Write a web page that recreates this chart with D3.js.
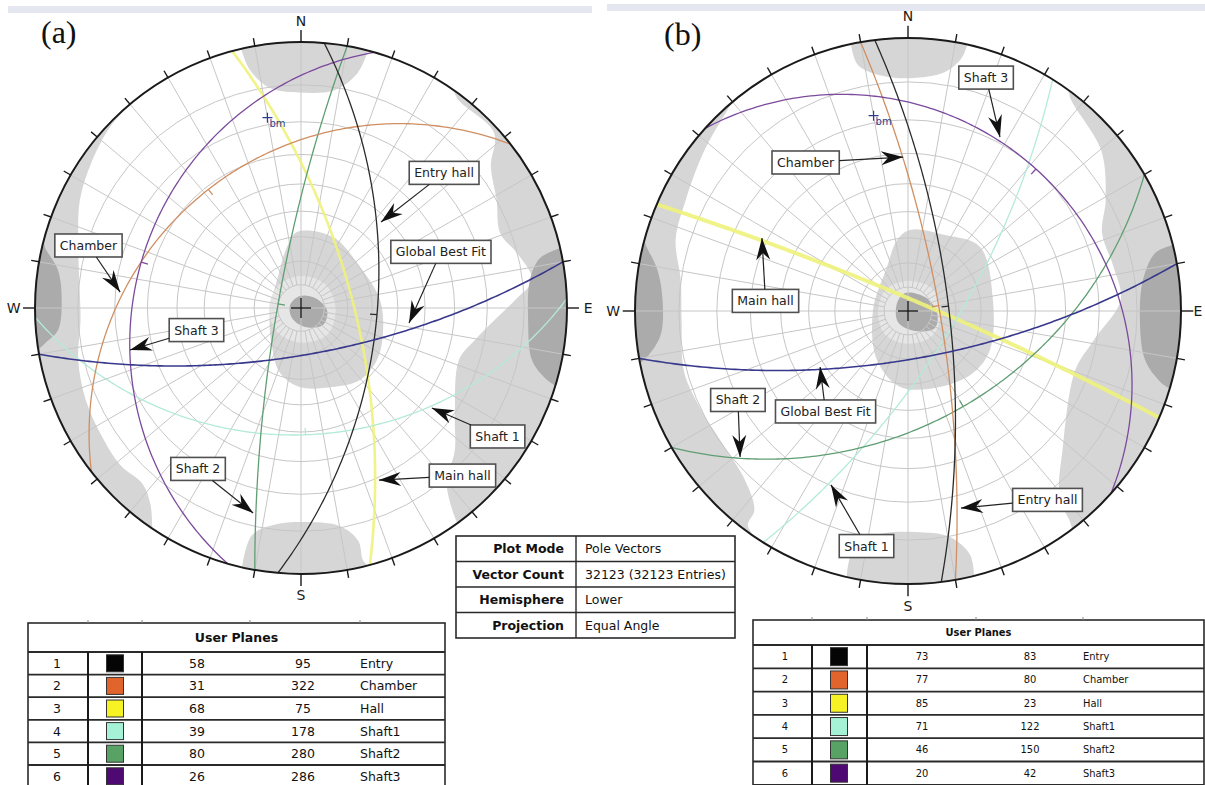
<!DOCTYPE html>
<html><head><meta charset="utf-8">
<script src="https://cdn.jsdelivr.net/npm/d3@7"></script>
<style>
body{margin:0;background:#fff;}
svg{display:block;font-family:"DejaVu Sans",Verdana,sans-serif;}
</style></head><body>
<svg id="chart" width="1205" height="785"></svg>
<script>
// ---------------- DATA ----------------
const planeIds = [1, 2, 3, 4, 5, 6];
const planeNames = ["Entry", "Chamber", "Hall", "Shaft1", "Shaft2", "Shaft3"];
const dipA = [58, 31, 68, 39, 80, 26];
const dipDirA = [95, 322, 75, 178, 280, 286];
const dipB = [73, 77, 85, 71, 46, 20];
const dipDirB = [83, 80, 23, 122, 150, 42];
const bestFitA = [70, 170];      // dip, dip direction (Global Best Fit)
const bestFitB = [70, 170];
const meanPoleA = [350, 18];     // trend, plunge ("bm")
const meanPoleB = [350, 18];
const gridPlunges = [10, 20, 30, 40, 50, 60, 70, 80];
const gridTrendStep = 10;
const cardinalLabels = ["N", "E", "S", "W"];
const cardinalTrends = [0, 90, 180, 270];
const infoLabels = ["Plot Mode", "Vector Count", "Hemisphere", "Projection"];
const infoValues = ["Pole Vectors", "32123 (32123 Entries)", "Lower", "Equal Angle"];
const tableTitle = "User Planes";

// pole-density contours: edge contours as [azimuth, radius fraction]
const lightEdgeA = [
  [[214,1.0],[217.5,0.93],[222,0.89],[229,0.90],[237.7,0.89],[246.9,0.88],[256.9,0.86],[266.9,0.83],[277,0.84],[287,0.876],[296,0.925],[305,0.96],[313.8,0.99],[321,1.0]],
  [[35,1.0],[37.2,0.98],[47.8,0.98],[53.3,0.89],[61.1,0.84],[69.4,0.80],[76,0.84],[83.1,0.875],[87.9,0.805],[93.5,0.73],[100.4,0.665],[108.2,0.625],[124.3,0.70],[133,0.79],[139.9,0.85],[143.2,0.95],[144,1.0]],
  [[347,1.0],[347.9,0.915],[352,0.835],[359.7,0.81],[368.9,0.83],[373.6,0.91],[374.6,1.0]],
  [[165.5,1.0],[166.2,0.976],[166.2,0.90],[169.9,0.833],[178.9,0.805],[186.8,0.82],[192.2,0.874],[192.8,1.0]]
];
const darkEdgeA = [
  [[261,1.0],[262.2,0.97],[264.8,0.917],[271.9,0.90],[278.9,0.925],[283.4,0.99],[285,1.0]],
  [[77,1.0],[78.2,0.918],[83,0.867],[93,0.855],[102.7,0.89],[106,0.954],[107,1.0]]
];
const lightEdgeB = [
  [[214,1.0],[216.8,0.98],[217.7,0.92],[224,0.86],[235.5,0.835],[244.5,0.84],[254.8,0.85],[267.7,0.83],[277.7,0.84],[287,0.89],[296.5,0.91],[308.3,0.95],[318.2,0.99],[320,1.0]],
  [[36,1.0],[37.7,0.977],[50.3,0.92],[60.7,0.83],[68.1,0.766],[77.9,0.77],[87,0.78],[98.8,0.69],[109.5,0.65],[131.3,0.755],[140.9,0.88],[142.4,0.97],[143,1.0]],
  [[347.9,1.0],[348.5,0.92],[353.2,0.87],[360.5,0.853],[368.8,0.886],[372,0.948],[372.5,1.0]],
  [[166,1.0],[165.7,0.922],[169.5,0.842],[178.2,0.81],[187.2,0.823],[192.8,0.879],[193,1.0]]
];
const darkEdgeB = [
  [[259,1.0],[260,0.97],[264.5,0.91],[272.6,0.90],[279.3,0.93],[284.1,0.99],[285,1.0]],
  [[76,1.0],[76.8,0.93],[82.5,0.868],[92.2,0.85],[101.7,0.887],[105.7,0.96],[106.5,1.0]]
];
// central contours as [x, y] in net units (north up)
const lightCenterA = [[-0.015,0.286],[0.120,0.267],[0.222,0.154],[0.297,0.030],[0.308,-0.094],[0.286,-0.195],[0.222,-0.271],[0.120,-0.297],[-0.004,-0.297],[-0.079,-0.244],[-0.109,-0.147],[-0.117,-0.008],[-0.090,0.105],[-0.053,0.229]];
const haloCenterA = [[0,0.12],[0.09,0.09],[0.13,0],[0.1,-0.1],[0,-0.13],[-0.09,-0.09],[-0.12,0],[-0.085,0.085]];
const darkCenterA = [[-0.004,0.045],[0.053,0.038],[0.098,-0.008],[0.083,-0.064],[0.015,-0.071],[-0.034,-0.038],[-0.041,0.011]];
const lightCenterB = [[0.007,0.297],[0.136,0.278],[0.264,0.234],[0.311,0.040],[0.300,-0.143],[0.238,-0.227],[0.117,-0.278],[-0.029,-0.278],[-0.114,-0.179],[-0.128,0.004],[-0.077,0.161],[-0.040,0.260]];
const haloCenterB = [[0,0.11],[0.085,0.085],[0.12,0],[0.09,-0.09],[0,-0.12],[-0.085,-0.085],[-0.11,0],[-0.08,0.08]];
const darkCenterB = [[-0.011,0.066],[0.062,0.051],[0.106,-0.004],[0.099,-0.062],[0.026,-0.073],[-0.037,-0.040],[-0.040,0.029]];

// annotations: label, box centre and arrow tip in net units
const annotLabelsA = ["Entry hall", "Global Best Fit", "Chamber", "Shaft 3", "Shaft 1", "Main hall", "Shaft 2"];
const annotBoxA = [[0.538,0.508],[0.526,0.211],[-0.799,0.235],[-0.393,-0.083],[0.739,-0.483],[0.607,-0.630],[-0.387,-0.605]];
const annotTipA = [[0.301,0.323],[0.406,-0.056],[-0.680,0.060],[-0.643,-0.158],[0.492,-0.376],[0.293,-0.647],[-0.180,-0.771]];
const annotLabelsB = ["Shaft 3", "Chamber", "Main hall", "Global Best Fit", "Shaft 2", "Shaft 1", "Entry hall"];
const annotBoxB = [[0.286,0.855],[-0.375,0.544],[-0.522,0.037],[-0.302,-0.368],[-0.623,-0.326],[-0.152,-0.861],[0.511,-0.692]];
const annotTipB = [[0.337,0.637],[-0.018,0.564],[-0.535,0.267],[-0.322,-0.205],[-0.615,-0.535],[-0.282,-0.637],[0.194,-0.722]];

// ---------------- STYLES ----------------
const lineColors = ["#2b2b2b", "#cf8f62", "#eef27a", "#b4ead9", "#5f9e72", "#7b4a9c"];
const swatchColors = ["#050505", "#e0642c", "#f6f224", "#a6f2d6", "#58a266", "#4e0a72"];
const bestFitColor = "#38388c";
const lightGrey = "#d6d6d6", darkGrey = "#ababab", haloGrey = "#e6e6e6";

// ---------------- HELPERS ----------------
const rad = Math.PI / 180;
const svg = d3.select("#chart");
const defs = svg.append("defs");
defs.append("marker").attr("id", "arrowHead")
  .attr("viewBox", "-23 -8 24 16").attr("refX", 0).attr("refY", 0)
  .attr("markerWidth", 24).attr("markerHeight", 16)
  .attr("markerUnits", "userSpaceOnUse").attr("orient", "auto")
  .append("path").attr("d", "M0,0 L-22,-7 L-15,0 L-22,7 Z").attr("fill", "#111");

function vec(trend, plunge) {
  return [Math.cos(plunge*rad)*Math.cos(trend*rad), Math.cos(plunge*rad)*Math.sin(trend*rad), Math.sin(plunge*rad)];
}
function toTP(v) {
  const t = (Math.atan2(v[1], v[0]) / rad + 360) % 360;
  const p = Math.asin(Math.max(-1, Math.min(1, v[2]))) / rad;
  return [t, p];
}
function planeLines(dip, dd) {
  const s = vec(dd - 90, 0), d = vec(dd, dip);
  return d3.range(0, 180.5, 1).map(b => {
    const c = Math.cos(b*rad), sn = Math.sin(b*rad);
    return toTP([c*s[0]+sn*d[0], c*s[1]+sn*d[1], c*s[2]+sn*d[2]]);
  });
}
function makeNet(cx, cy, R) {
  const x = d3.scaleLinear().domain([-1, 1]).range([cx - R, cx + R]);
  const y = d3.scaleLinear().domain([-1, 1]).range([cy + R, cy - R]);
  const polar = (az, r) => [x(r*Math.sin(az*rad)), y(r*Math.cos(az*rad))];
  const proj = (t, p) => polar(t, Math.tan((90 - p) / 2 * rad));
  const unit = (u, v) => [x(u), y(v)];
  return {cx, cy, R, x, y, polar, proj, unit};
}

function drawNet(id, net, cfg) {
  const g = svg.append("g");
  defs.append("clipPath").attr("id", "clip" + id)
    .append("circle").attr("cx", net.cx).attr("cy", net.cy).attr("r", net.R);
  const inner = g.append("g").attr("clip-path", `url(#clip${id})`);

  // contours
  const smooth = d3.line().curve(d3.curveCatmullRom.alpha(0.5));
  const closed = d3.line().curve(d3.curveCatmullRomClosed.alpha(0.5));
  function edgePath(list) {
    const pts = list.map(([a, r]) => net.polar(a, r));
    const a0 = list[0][0], a1 = list[list.length - 1][0];
    let d = smooth(pts);
    const outer = d3.range(a1, a0 - 0.01, -5).concat([a0]);
    outer.forEach(a => { const p = net.polar(a, 1.15); d += `L${p[0]},${p[1]}`; });
    return d + "Z";
  }
  cfg.lightEdge.forEach(c => inner.append("path").attr("d", edgePath(c)).attr("fill", lightGrey));
  inner.append("path").attr("d", closed(cfg.lightCenter.map(p => net.unit(...p)))).attr("fill", lightGrey);
  inner.append("path").attr("d", closed(cfg.haloCenter.map(p => net.unit(...p)))).attr("fill", haloGrey);
  cfg.darkEdge.forEach(c => inner.append("path").attr("d", edgePath(c)).attr("fill", darkGrey));
  inner.append("path").attr("d", closed(cfg.darkCenter.map(p => net.unit(...p)))).attr("fill", darkGrey);

  // polar grid
  const grid = inner.append("g").attr("stroke", "#c6c6c6").attr("stroke-width", 1).attr("fill", "none");
  gridPlunges.forEach(p => grid.append("circle").attr("cx", net.cx).attr("cy", net.cy)
    .attr("r", net.x(Math.tan((90 - p) / 2 * rad)) - net.cx));
  const rIn = Math.tan((90 - d3.max(gridPlunges)) / 2 * rad);
  d3.range(0, 360, gridTrendStep).forEach(t => {
    const a = cardinalTrends.includes(t) ? net.polar(t, 0) : net.polar(t, rIn);
    const b = net.polar(t, 1);
    grid.append("line").attr("x1", a[0]).attr("y1", a[1]).attr("x2", b[0]).attr("y2", b[1]);
  });

  // planes (great circles)
  const gl = d3.line();
  const order = [2, 3, 4, 1, 5, 0];
  order.forEach(i => {
    const pts = planeLines(cfg.dips[i], cfg.dds[i]).map(([t, p]) => net.proj(t, p));
    inner.append("path").attr("d", gl(pts)).attr("fill", "none")
      .attr("stroke", lineColors[i]).attr("stroke-width", i === 2 ? cfg.hallWidth : 1.3)
      .attr("stroke-opacity", i === 2 ? 0.9 : 1);
    // dip-vector tick
    const m = net.proj(cfg.dds[i], cfg.dips[i]);
    const dx = net.cx - m[0], dy = net.cy - m[1], L = Math.hypot(dx, dy) || 1;
    if (i !== 2) inner.append("line").attr("x1", m[0]).attr("y1", m[1])
      .attr("x2", m[0] + dx / L * 7).attr("y2", m[1] + dy / L * 7)
      .attr("stroke", lineColors[i]).attr("stroke-width", 1.3);
  });
  const bf = planeLines(cfg.bestFit[0], cfg.bestFit[1]).map(([t, p]) => net.proj(t, p));
  inner.append("path").attr("d", gl(bf)).attr("fill", "none").attr("stroke", bestFitColor).attr("stroke-width", 1.6);

  // primitive circle + ticks
  g.append("circle").attr("cx", net.cx).attr("cy", net.cy).attr("r", net.R)
    .attr("fill", "none").attr("stroke", "#1a1a1a").attr("stroke-width", 2);
  d3.range(0, 360, 10).forEach(t => {
    const card = cardinalTrends.includes(t);
    const a = net.polar(t, 1), b = net.polar(t, card ? 1.045 : 1.03);
    g.append("line").attr("x1", a[0]).attr("y1", a[1]).attr("x2", b[0]).attr("y2", b[1])
      .attr("stroke", "#1a1a1a").attr("stroke-width", 1.4);
  });
  cardinalLabels.forEach((lab, i) => {
    const p = net.polar(cardinalTrends[i], 1.08);
    g.append("text").attr("x", Math.min(p[0], 1198)).attr("y", p[1]).attr("text-anchor", "middle")
      .attr("dominant-baseline", "central").attr("font-size", 14).attr("fill", "#1a1a1a").text(lab);
  });
  // centre cross
  g.append("line").attr("x1", net.cx - 10).attr("x2", net.cx + 10).attr("y1", net.cy).attr("y2", net.cy).attr("stroke", "#111").attr("stroke-width", 1.3);
  g.append("line").attr("x1", net.cx).attr("x2", net.cx).attr("y1", net.cy - 10).attr("y2", net.cy + 10).attr("stroke", "#111").attr("stroke-width", 1.3);
  // mean pole marker
  const mp = net.proj(cfg.meanPole[0], cfg.meanPole[1]);
  g.append("path").attr("d", `M${mp[0]-5},${mp[1]}h10M${mp[0]},${mp[1]-5}v10`).attr("stroke", "#2c3c8c").attr("stroke-width", 1.2);
  g.append("text").attr("x", mp[0] + 2).attr("y", mp[1] + 9).attr("font-size", 10).attr("fill", "#2c3c8c").text("bm");

  // annotations
  cfg.labels.forEach((lab, i) => {
    const c = net.unit(...cfg.boxes[i]), tip = net.unit(...cfg.tips[i]);
    const t = g.append("text").attr("x", c[0]).attr("y", c[1]).attr("text-anchor", "middle")
      .attr("dominant-baseline", "central").attr("font-size", 12.5).attr("fill", "#222").text(lab);
    const w = t.node().getComputedTextLength() + 10, h = 23;
    g.insert("rect", () => t.node()).attr("x", c[0] - w/2).attr("y", c[1] - h/2).attr("width", w).attr("height", h)
      .attr("fill", "#fff").attr("stroke", "#505050").attr("stroke-width", 1.6);
    const dx = tip[0] - c[0], dy = tip[1] - c[1];
    const k = Math.min((w/2) / Math.abs(dx || 1e-6), (h/2) / Math.abs(dy || 1e-6));
    g.append("line").attr("x1", c[0] + dx*k).attr("y1", c[1] + dy*k).attr("x2", tip[0]).attr("y2", tip[1])
      .attr("stroke", "#222").attr("stroke-width", 1.2).attr("marker-end", "url(#arrowHead)");
  });
}

// top bars and panel letters
svg.append("rect").attr("x", 8).attr("y", 6).attr("width", 584).attr("height", 7).attr("fill", "#e5e7f0");
svg.append("rect").attr("x", 607).attr("y", 4).attr("width", 598).attr("height", 7).attr("fill", "#e5e7f0");
svg.append("text").attr("x", 41).attr("y", 43).attr("font-family", "'Liberation Serif','Times New Roman',serif").attr("font-size", 32).attr("fill", "#111").text("(a)");
svg.append("text").attr("x", 664).attr("y", 45).attr("font-family", "'Liberation Serif','Times New Roman',serif").attr("font-size", 32).attr("fill", "#111").text("(b)");

const netA = makeNet(301, 308, 266);
const netB = makeNet(908, 311, 273);
drawNet("A", netA, {dips: dipA, dds: dipDirA, bestFit: bestFitA, meanPole: meanPoleA, hallWidth: 2.6,
  lightEdge: lightEdgeA, darkEdge: darkEdgeA, lightCenter: lightCenterA, haloCenter: haloCenterA, darkCenter: darkCenterA,
  labels: annotLabelsA, boxes: annotBoxA, tips: annotTipA});
drawNet("B", netB, {dips: dipB, dds: dipDirB, bestFit: bestFitB, meanPole: meanPoleB, hallWidth: 4,
  lightEdge: lightEdgeB, darkEdge: darkEdgeB, lightCenter: lightCenterB, haloCenter: haloCenterB, darkCenter: darkCenterB,
  labels: annotLabelsB, boxes: annotBoxB, tips: annotTipB});

// ---------------- TABLES ----------------
function userTable(cfg, dips, dds) {
  const g = svg.append("g").attr("font-family", cfg.font).attr("font-size", cfg.fs).attr("fill", "#111");
  const rowY = i => cfg.top + cfg.headH + i * cfg.rowH;
  const bottom = rowY(planeIds.length);
  g.append("rect").attr("x", cfg.x0).attr("y", cfg.top).attr("width", cfg.x1 - cfg.x0).attr("height", bottom - cfg.top)
    .attr("fill", "#fff").attr("stroke", "#2a2a2a").attr("stroke-width", 1.6);
  g.append("text").attr("x", (cfg.x0 + cfg.x1) / 2).attr("y", cfg.top + cfg.headH / 2).attr("text-anchor", "middle")
    .attr("dominant-baseline", "central").attr("font-weight", "bold").text(tableTitle);
  cfg.headTicks.forEach(x => g.append("line").attr("x1", x).attr("x2", x).attr("y1", cfg.top - 3).attr("y2", cfg.top)
    .attr("stroke", "#888").attr("stroke-width", 1));
  planeIds.forEach((id, i) => {
    const y0 = rowY(i), yc = y0 + cfg.rowH / 2;
    g.append("line").attr("x1", cfg.x0).attr("x2", cfg.x1).attr("y1", y0).attr("y2", y0).attr("stroke", "#2a2a2a").attr("stroke-width", 1.8);
    const tx = (x, s, anchor) => g.append("text").attr("x", x).attr("y", yc).attr("text-anchor", anchor)
      .attr("dominant-baseline", "central").text(s);
    tx(cfg.cId, id, "middle");
    tx(cfg.cDip, dips[i], "middle");
    tx(cfg.cDd, dds[i], "middle");
    tx(cfg.cName, planeNames[i], "start");
    g.append("rect").attr("x", cfg.cSw - cfg.sw / 2).attr("y", yc - cfg.sh / 2).attr("width", cfg.sw).attr("height", cfg.sh)
      .attr("fill", swatchColors[i]).attr("stroke", "#333").attr("stroke-width", 1);
  });
  cfg.swCols.forEach(x => g.append("line").attr("x1", x).attr("x2", x).attr("y1", rowY(0)).attr("y2", bottom)
    .attr("stroke", "#1a1a1a").attr("stroke-width", 2));
}
userTable({x0: 28, x1: 445, top: 623, headH: 29, rowH: 22.6, font: "'DejaVu Sans',Verdana,sans-serif", fs: 12.5,
  cId: 57, cSw: 115, cDip: 197, cDd: 303, cName: 360, sw: 17, sh: 17, swCols: [88, 142], headTicks: [88, 142, 250, 360]},
  dipA, dipDirA);
userTable({x0: 753, x1: 1204, top: 620, headH: 25, rowH: 23.3, font: "'Liberation Sans Narrow','DejaVu Sans Condensed','DejaVu Sans',sans-serif", fs: 11,
  cId: 785, cSw: 839, cDip: 922, cDd: 1030, cName: 1083, sw: 17, sh: 18, swCols: [812, 867], headTicks: [812, 867, 976, 1083]},
  dipB, dipDirB);

// info table
(function () {
  const x0 = 456, x1 = 735, xd = 576, top = 536, rh = 25.5;
  const g = svg.append("g").attr("font-size", 12.5).attr("fill", "#111");
  g.append("rect").attr("x", x0).attr("y", top).attr("width", x1 - x0).attr("height", rh * infoLabels.length)
    .attr("fill", "#fff").attr("stroke", "#2a2a2a").attr("stroke-width", 1.6);
  g.append("line").attr("x1", xd).attr("x2", xd).attr("y1", top).attr("y2", top + rh * infoLabels.length).attr("stroke", "#2a2a2a").attr("stroke-width", 1.4);
  infoLabels.forEach((lab, i) => {
    const yc = top + rh * i + rh / 2;
    if (i > 0) g.append("line").attr("x1", x0).attr("x2", x1).attr("y1", top + rh * i).attr("y2", top + rh * i).attr("stroke", "#2a2a2a").attr("stroke-width", 1.4);
    g.append("text").attr("x", xd - 12).attr("y", yc).attr("text-anchor", "end").attr("dominant-baseline", "central").attr("font-weight", "bold").text(lab);
    g.append("text").attr("x", xd + 9).attr("y", yc).attr("dominant-baseline", "central").text(infoValues[i]);
  });
})();
</script>
</body></html>
